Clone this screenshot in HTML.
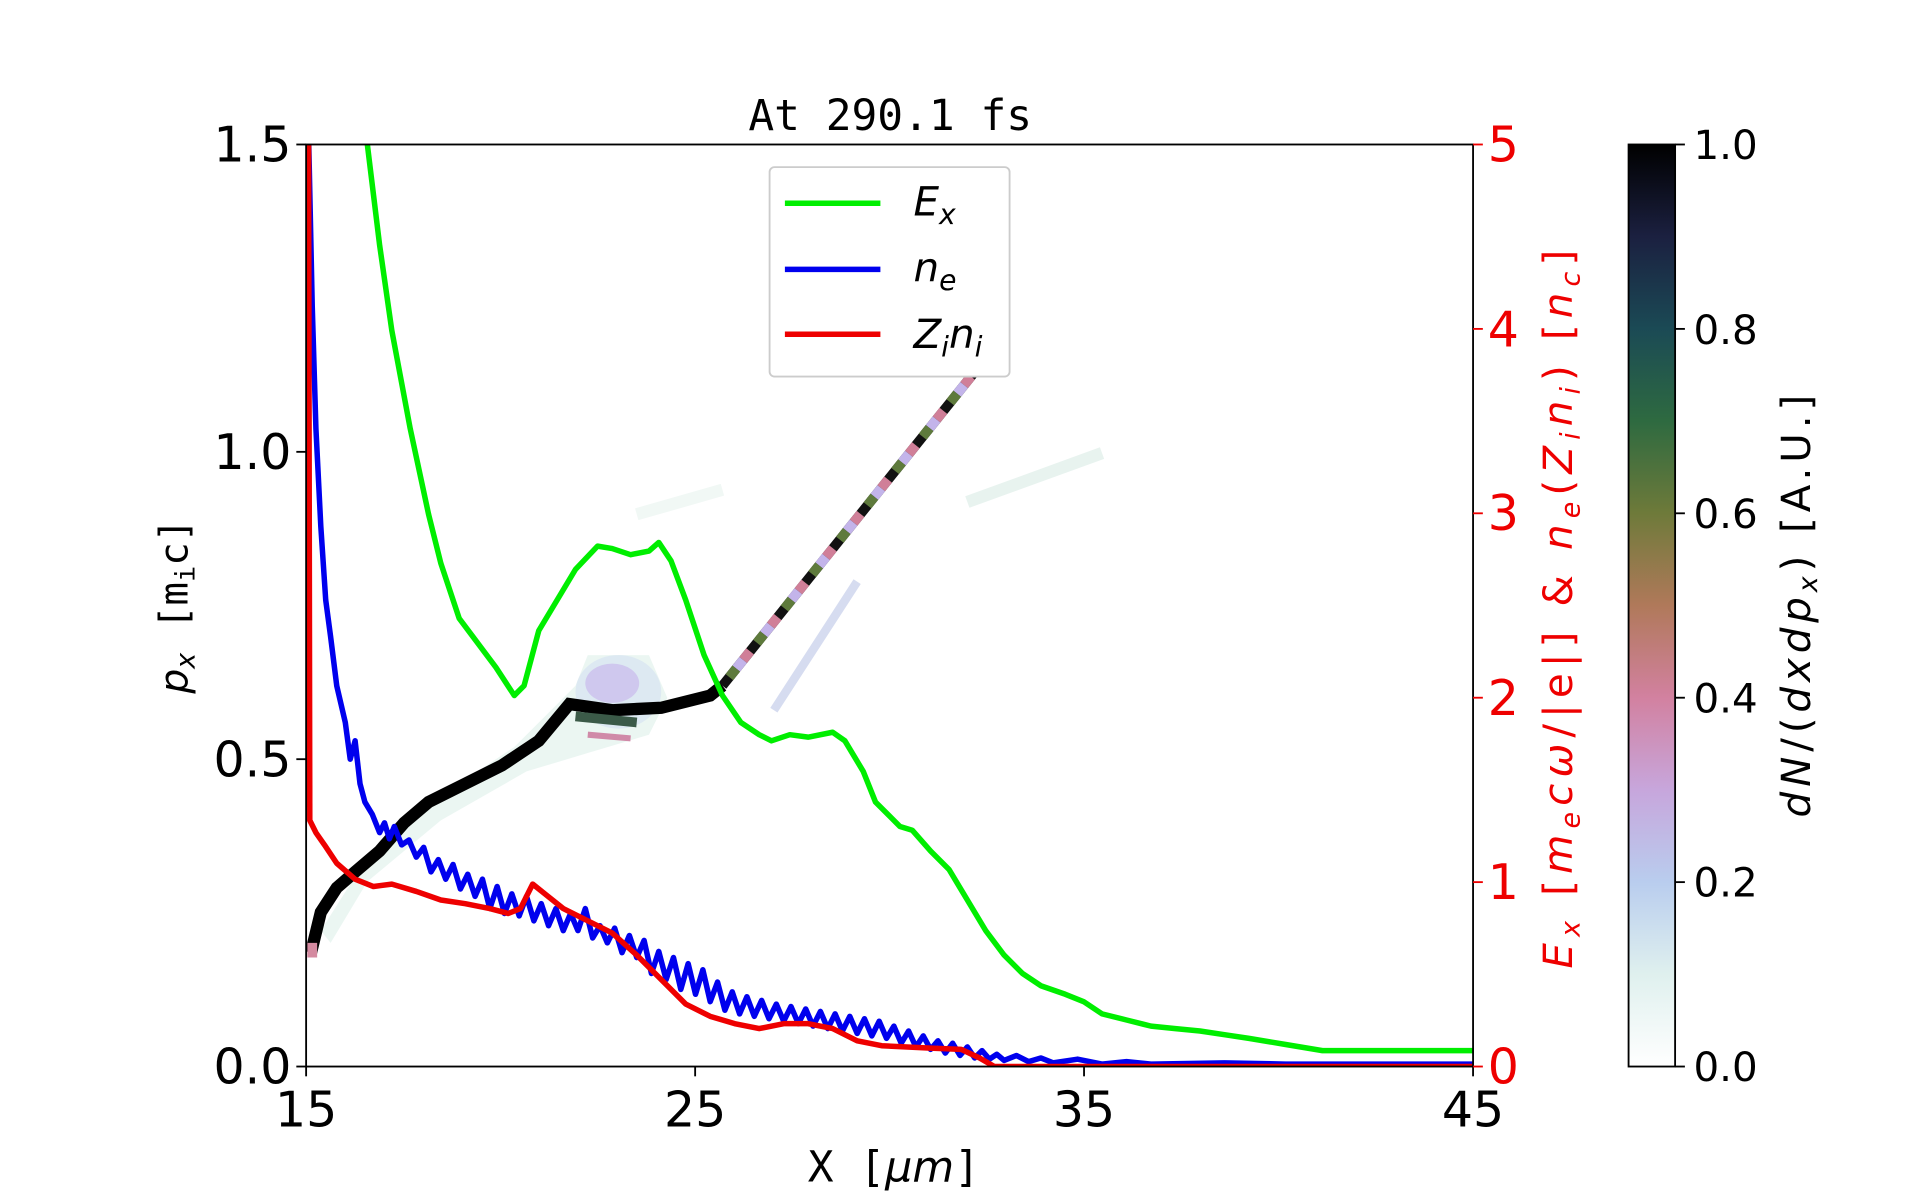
<!DOCTYPE html>
<html><head><meta charset="utf-8"><style>html,body{margin:0;padding:0;background:#fff}svg{display:block}</style></head>
<body>
<svg width="1920" height="1200" viewBox="0 0 1568 980" xmlns="http://www.w3.org/2000/svg" font-family="'DejaVu Sans','Liberation Sans',sans-serif">
<defs>
<linearGradient id="cb" x1="0" y1="1" x2="0" y2="0">
<stop offset="0" stop-color="#ffffff"/>
<stop offset="0.1" stop-color="#dff0ee"/>
<stop offset="0.2" stop-color="#b9cdee"/>
<stop offset="0.3" stop-color="#c7a6dc"/>
<stop offset="0.4" stop-color="#d281a0"/>
<stop offset="0.5" stop-color="#b0795a"/>
<stop offset="0.6" stop-color="#6e7a3a"/>
<stop offset="0.7" stop-color="#2e6a40"/>
<stop offset="0.8" stop-color="#1b4a55"/>
<stop offset="0.9" stop-color="#1b2040"/>
<stop offset="1" stop-color="#000000"/>
</linearGradient>
<clipPath id="pc"><rect x="250" y="118" width="953" height="753"/></clipPath>
</defs>
<rect width="1568" height="980" fill="#fff"/>
<g clip-path="url(#pc)">
<polygon points="262,760 300,700 360,650 420,610 470,560 480,535 530,535 545,570 530,600 480,615 430,630 360,670 300,720 270,770" fill="#e6f4ef" opacity="0.8"/>
<ellipse cx="505" cy="565" rx="35" ry="30" fill="#dde9f2"/>
<ellipse cx="500" cy="558" rx="22" ry="16" fill="#cfc8ee"/>
<polyline points="520,420 590,400" stroke="#f1f8f5" stroke-width="10" fill="none"/>
<polyline points="790,410 900,370" stroke="#e8f3ef" stroke-width="10" fill="none"/>
<polyline points="632,580 700,475" stroke="#d6dcf0" stroke-width="7" fill="none"/>
<polyline points="254,778 262,745 275,725 290,712 310,695 330,672 350,655 380,640 410,625 440,605 465,575 500,580 540,578 580,568 590,560" stroke="#000" stroke-width="10" fill="none"/>
<polyline points="255,782 255,770" stroke="#d48aa0" stroke-width="8"/>
<polyline points="470,585 520,590" stroke="#3b5a48" stroke-width="8" fill="none"/>
<polyline points="480,600 515,603" stroke="#d08aa8" stroke-width="5" fill="none"/>
<g fill="none" stroke-width="8">
<polyline points="590,560 795,305" stroke="#111"/>
<polyline points="590,560 795,305" stroke="#d07f98" stroke-dasharray="9 27" stroke-dashoffset="9"/>
<polyline points="590,560 795,305" stroke="#c3b4ea" stroke-dasharray="9 27" stroke-dashoffset="18"/>
<polyline points="590,560 795,305" stroke="#5e7a3c" stroke-dasharray="9 27" stroke-dashoffset="27"/>
</g>
<polyline fill="none" stroke="#00ee00" stroke-width="4.5" stroke-linejoin="round" points="298,110 300,118 310,200 320,270 335,350 350,420 360,460 375,505 390,525 405,545 420,568 428,560 440,515 455,490 470,465 488,446 500,448 515,453 530,450 538,443 548,458 560,490 575,535 590,568 605,590 620,600 630,605 645,600 660,602 680,598 690,605 705,630 715,655 735,675 745,678 760,695 775,710 790,735 805,760 820,780 835,795 850,805 870,812 885,818 900,828 920,833 940,838 960,840 980,842 1000,845 1020,848 1050,853 1080,858 1100,858 1203,858"/>
<polyline fill="none" stroke="#0000ee" stroke-width="4.5" stroke-linejoin="round" points="252,110 255,250 258,350 262,430 266,490 270,520 275,560 282,590 286,620 290,605 294,640 298,655 304,665 310,680 314,672 318,685 322,675 328,690 334,686 340,700 346,692 352,712 358,702 364,718 370,706 376,726 382,714 388,732 394,718 400,742 406,724 412,746 418,730 424,748 430,732 436,752 442,738 448,756 454,742 460,760 466,746 472,760 478,742 484,766 490,756 496,770 502,758 508,778 514,764 520,782 526,768 532,795 538,777 544,800 550,782 556,808 562,787 568,812 574,792 580,818 586,802 592,825 598,810 604,828 610,814 616,830 622,817 628,832 634,820 640,834 646,822 652,836 658,824 664,838 670,826 676,840 682,828 688,842 694,830 700,844 706,832 712,846 718,834 724,848 730,838 736,852 742,842 748,855 754,846 760,857 766,850 772,860 778,852 784,862 790,855 796,864 802,858 808,865 814,861 820,866 830,862 840,867 850,864 860,868 880,865 900,869 920,867 940,869 1000,868 1050,869 1203,869"/>
<polyline fill="none" stroke="#ee0000" stroke-width="4.5" stroke-linejoin="round" points="252,110 253,670 258,680 265,690 275,705 290,718 305,724 320,722 340,728 360,735 380,738 400,742 415,746 425,742 435,722 445,730 460,742 480,752 500,762 520,780 540,800 560,820 580,830 600,836 620,840 640,836 660,836 680,840 700,850 720,854 760,856 785,857 800,864 812,871 1203,871"/>
</g>
<rect x="250" y="118" width="953" height="753" fill="none" stroke="#000" stroke-width="1.5"/>
<g stroke="#000" stroke-width="1.5">
<line x1="250" y1="871" x2="250" y2="879"/><line x1="567.7" y1="871" x2="567.7" y2="879"/><line x1="885.3" y1="871" x2="885.3" y2="879"/><line x1="1203" y1="871" x2="1203" y2="879"/>
<line x1="242" y1="871" x2="250" y2="871"/><line x1="242" y1="620" x2="250" y2="620"/><line x1="242" y1="369" x2="250" y2="369"/><line x1="242" y1="118" x2="250" y2="118"/>
</g>
<g stroke="#ee0000" stroke-width="1.5">
<line x1="1203" y1="871" x2="1211" y2="871"/><line x1="1203" y1="720.4" x2="1211" y2="720.4"/><line x1="1203" y1="569.8" x2="1211" y2="569.8"/><line x1="1203" y1="419.2" x2="1211" y2="419.2"/><line x1="1203" y1="268.6" x2="1211" y2="268.6"/><line x1="1203" y1="118" x2="1211" y2="118"/>
</g>
<g font-size="40" fill="#000" text-anchor="middle">
<text x="250" y="920">15</text><text x="567.7" y="920">25</text><text x="885.3" y="920">35</text><text x="1203" y="920">45</text>
</g>
<g font-size="40" fill="#000" text-anchor="end">
<text x="238" y="885">0.0</text><text x="238" y="634">0.5</text><text x="238" y="383">1.0</text><text x="238" y="132">1.5</text>
</g>
<g font-size="40" fill="#ee0000">
<text x="1215" y="885">0</text><text x="1215" y="734">1</text><text x="1215" y="584">2</text><text x="1215" y="433">3</text><text x="1215" y="283">4</text><text x="1215" y="132">5</text>
</g>
<text x="727" y="106" font-family="'DejaVu Sans Mono','Liberation Mono',monospace" font-size="35" text-anchor="middle">At 290.1 fs</text>
<text x="730" y="965" font-family="'DejaVu Sans Mono','Liberation Mono',monospace" font-size="35" text-anchor="middle">X [<tspan font-style="italic" font-family="'DejaVu Sans',sans-serif">μm</tspan>]</text>
<text transform="translate(153,495) rotate(-90)" font-size="32" text-anchor="middle" font-family="'DejaVu Sans Mono',monospace"><tspan font-style="italic" font-family="'DejaVu Sans',sans-serif">p</tspan><tspan font-size="22" dy="6" font-style="italic" font-family="'DejaVu Sans',sans-serif">x</tspan><tspan dy="-6">  [m</tspan><tspan font-size="22" dy="6">i</tspan><tspan dy="-6">c]</tspan></text>
<text transform="translate(1284,495) rotate(-90)" font-size="33" letter-spacing="5" text-anchor="middle" fill="#ee0000"><tspan font-style="italic">E</tspan><tspan font-size="22" dy="6" font-style="italic">x</tspan><tspan dy="-6"> [</tspan><tspan font-style="italic">m</tspan><tspan font-size="22" dy="6" font-style="italic">e</tspan><tspan dy="-6" font-style="italic">cω</tspan><tspan>/|e|] &amp; </tspan><tspan font-style="italic">n</tspan><tspan font-size="22" dy="6" font-style="italic">e</tspan><tspan dy="-6">(</tspan><tspan font-style="italic">Z</tspan><tspan font-size="22" dy="6" font-style="italic">i</tspan><tspan dy="-6" font-style="italic">n</tspan><tspan font-size="22" dy="6" font-style="italic">i</tspan><tspan dy="-6">) [</tspan><tspan font-style="italic">n</tspan><tspan font-size="22" dy="6" font-style="italic">c</tspan><tspan dy="-6">]</tspan></text>
<rect x="628.5" y="136.5" width="196" height="171" rx="4" fill="#fff" stroke="#ccc" stroke-width="1.5"/>
<line x1="641" y1="166" x2="719" y2="166" stroke="#00ee00" stroke-width="4.5"/>
<line x1="641" y1="220" x2="719" y2="220" stroke="#0000ee" stroke-width="4.5"/>
<line x1="641" y1="273" x2="719" y2="273" stroke="#ee0000" stroke-width="4.5"/>
<g font-size="33" font-style="italic">
<text x="746" y="176">E<tspan font-size="23" dy="7">x</tspan></text>
<text x="746" y="230">n<tspan font-size="23" dy="7">e</tspan></text>
<text x="746" y="284">Z<tspan font-size="23" dy="7">i</tspan><tspan dy="-7">n</tspan><tspan font-size="23" dy="7">i</tspan></text>
</g>
<rect x="1330" y="118" width="38" height="753" fill="url(#cb)" stroke="#000" stroke-width="1.5"/>
<g stroke="#000" stroke-width="1.5">
<line x1="1368" y1="871" x2="1376" y2="871"/><line x1="1368" y1="720.4" x2="1376" y2="720.4"/><line x1="1368" y1="569.8" x2="1376" y2="569.8"/><line x1="1368" y1="419.2" x2="1376" y2="419.2"/><line x1="1368" y1="268.6" x2="1376" y2="268.6"/><line x1="1368" y1="118" x2="1376" y2="118"/>
</g>
<g font-size="33">
<text x="1383" y="883">0.0</text><text x="1383" y="732">0.2</text><text x="1383" y="582">0.4</text><text x="1383" y="431">0.6</text><text x="1383" y="281">0.8</text><text x="1383" y="130">1.0</text>
</g>
<text transform="translate(1478,493) rotate(-90)" font-size="33" letter-spacing="4" text-anchor="middle"><tspan font-style="italic">dN</tspan>/(<tspan font-style="italic">dxdp</tspan><tspan font-size="22" dy="6" font-style="italic">x</tspan><tspan dy="-6">)  [A.U.]</tspan></text>
</svg>
</body></html>
